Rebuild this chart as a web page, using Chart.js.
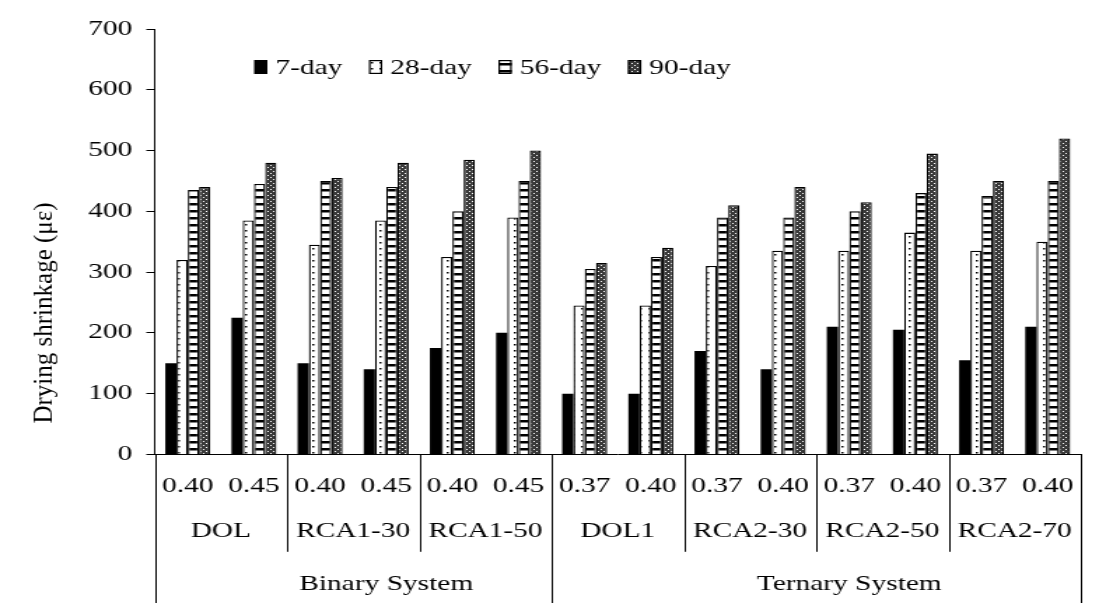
<!DOCTYPE html>
<html>
<head>
<meta charset="utf-8">
<script src="https://cdn.jsdelivr.net/npm/chart.js@4.4.1/dist/chart.umd.min.js"></script>
<style>
  html, body { margin: 0; padding: 0; background: #fff; overflow: hidden; }
  #wrap { width: 785px; height: 614px; transform-origin: 0 0; }
</style>
</head>
<body>
<div id="wrap"><canvas id="chart" width="785" height="614"></canvas></div>
<script>
const ratios = ["0.40", "0.45", "0.40", "0.45", "0.40", "0.45", "0.37", "0.40", "0.37", "0.40", "0.37", "0.40", "0.37", "0.40"];
const mixes = ["DOL", "RCA1-30", "RCA1-50", "DOL1", "RCA2-30", "RCA2-50", "RCA2-70"];
const systems = ["Binary System", "Ternary System"];
const ratiosPerMix = 2;
const mixesPerSystem = [3, 4];

const day7  = [150, 225, 150, 140, 175, 200, 100, 100, 170, 140, 210, 205, 155, 210];
const day28 = [320, 385, 345, 385, 325, 390, 245, 245, 310, 335, 335, 365, 335, 350];
const day56 = [435, 445, 450, 440, 400, 450, 305, 325, 390, 390, 400, 430, 425, 450];
const day90 = [440, 480, 455, 480, 485, 500, 315, 340, 410, 440, 415, 495, 450, 520];

const yMin = 0;
const yMax = 700;
const yStep = 100;
const yTitleText = "Drying shrinkage (με)";

// the original figure is stretched sideways: draw narrow, then widen
const stretch = 1.4;
document.getElementById("wrap").style.transform = `scaleX(${stretch})`;

const ink = "#000";
const black = "#000";
const none = "rgba(0,0,0,0)";
const family = "'Liberation Serif', 'Times New Roman', serif";
const font = { family: family, size: 21 };
Chart.defaults.font.family = family;
Chart.defaults.font.size = 21;
Chart.defaults.color = ink;

const canvas = document.getElementById("chart");
const ctx = canvas.getContext("2d");

function makePattern(w, h, draw) {
  const c = document.createElement("canvas");
  c.width = w;
  c.height = h;
  draw(c.getContext("2d"));
  return ctx.createPattern(c, "repeat");
}

// white with a column of dots
const dots = makePattern(6, 6, g => {
  g.fillStyle = "#fff";
  g.fillRect(0, 0, 6, 6);
  g.fillStyle = "#000";
  g.fillRect(1, 2, 1.5, 1.5);
});

// horizontal bars
const stripes = makePattern(4, 7, g => {
  g.fillStyle = "#fff";
  g.fillRect(0, 0, 4, 7);
  g.fillStyle = "#000";
  g.fillRect(0, 0, 4, 2.5);
});

// fine grey check
const check = makePattern(4, 4, g => {
  g.fillStyle = "#3a3a3a";
  g.fillRect(0, 0, 4, 4);
  g.fillStyle = "#fff";
  g.fillRect(1, 1, 1, 1);
  g.fillRect(3, 3, 1, 1);
});

// builtin legend can't sit inside the plot, so draw it here
const innerLegend = {
  id: "innerLegend",
  afterDraw(chart) {
    const c = chart.ctx;
    const area = chart.chartArea;
    let x = area.left + 71;
    const y = area.top + 38;
    c.save();
    c.font = "21px " + family;
    c.textBaseline = "middle";
    chart.data.datasets.forEach(ds => {
      c.fillStyle = ds.backgroundColor;
      c.fillRect(x, y - 7, 9.5, 14);
      if (ds.borderWidth) {
        c.lineWidth = 1.2;
        c.strokeStyle = black;
        c.strokeRect(x + 0.6, y - 6.4, 8.3, 12.8);
      }
      c.fillStyle = ink;
      c.fillText(ds.label, x + 15.2, y + 1);
      x += 15.2 + c.measureText(ds.label).width + 19;
    });
    c.restore();
  }
};

// the y title in the source is not widened, so undo the stretch for it
const yTitle = {
  id: "yTitle",
  afterDraw(chart) {
    const c = chart.ctx;
    const x = chart.scales.y.left - 21;
    const y = (chart.chartArea.top + chart.scales.x3.bottom) / 2;
    c.save();
    c.translate(x, y);
    c.scale(1 / stretch, 1);
    c.rotate(-Math.PI / 2);
    c.font = "25px " + family;
    c.fillStyle = ink;
    c.textAlign = "center";
    c.textBaseline = "middle";
    c.fillText(yTitleText, 0, 0);
    c.restore();
  }
};

// vertical dividers of the three label rows, taken from the category scale
const dividers = {
  id: "dividers",
  afterDraw(chart) {
    const x = chart.scales.x;
    const c = chart.ctx;
    const half = (x.getPixelForValue(1) - x.getPixelForValue(0)) / 2;
    const edge = i => i < ratios.length ? x.getPixelForValue(i) - half : x.getPixelForValue(i - 1) + half;
    const systemEdges = [0];
    mixesPerSystem.forEach(n => systemEdges.push(systemEdges[systemEdges.length - 1] + n * ratiosPerMix));
    const top = chart.chartArea.bottom;
    const mixBottom = chart.scales.x2.bottom + 8;
    const sysBottom = chart.scales.x3.bottom + 6;
    c.save();
    c.strokeStyle = black;
    c.lineWidth = 1;
    for (let i = 0; i <= ratios.length; i += ratiosPerMix) {
      const px = Math.round(edge(i)) + 0.5;
      c.beginPath();
      c.moveTo(px, top);
      c.lineTo(px, systemEdges.includes(i) ? sysBottom : mixBottom);
      c.stroke();
    }
    c.restore();
  }
};

new Chart(canvas, {
  type: "bar",
  data: {
    labels: ratios,
    datasets: [
      { label: "7-day", data: day7, backgroundColor: black, borderWidth: 0 },
      { label: "28-day", data: day28, backgroundColor: dots, borderColor: black, borderWidth: 1.3 },
      { label: "56-day", data: day56, backgroundColor: stripes, borderColor: black, borderWidth: 1.3 },
      { label: "90-day", data: day90, backgroundColor: check, borderColor: black, borderWidth: 1.3 }
    ]
  },
  options: {
    responsive: false,
    animation: false,
    devicePixelRatio: 1,
    categoryPercentage: 0.68,
    barPercentage: 1,
    layout: { padding: { left: 53, right: 13, top: 29, bottom: 17 } },
    plugins: {
      legend: { display: false },
      tooltip: { enabled: false }
    },
    scales: {
      y: {
        min: yMin,
        max: yMax,
        ticks: { stepSize: yStep, padding: 10, font: font },
        grid: { drawOnChartArea: false, tickLength: 6, color: black },
        border: { color: black, width: 1 }
      },
      x: {
        weight: 0,
        grid: { drawOnChartArea: false, tickLength: 19, color: none },
        border: { color: black, width: 1 },
        ticks: { padding: 0, autoSkip: false, maxRotation: 0, font: font }
      },
      x2: {
        type: "category",
        labels: mixes,
        position: "bottom",
        weight: 1,
        offset: true,
        grid: { drawOnChartArea: false, tickLength: 20, color: none },
        border: { display: false },
        ticks: { padding: 0, autoSkip: false, maxRotation: 0, font: font }
      },
      x3: {
        type: "category",
        labels: systems,
        position: "bottom",
        weight: 2,
        offset: true,
        grid: { drawOnChartArea: false, tickLength: 28, color: none },
        border: { display: false },
        ticks: { padding: 0, autoSkip: false, maxRotation: 0, font: font }
      }
    }
  },
  plugins: [innerLegend, yTitle, dividers]
});
</script>
</body>
</html>
